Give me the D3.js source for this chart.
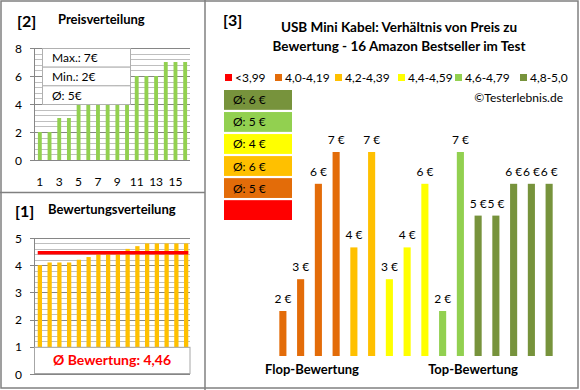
<!DOCTYPE html>
<html>
<head>
<meta charset="utf-8">
<script src="https://cdn.jsdelivr.net/npm/d3@7"></script>
<style>
  body { margin: 0; background: #fff; }
  svg { display: block; font-family: Lato, "Open Sans", sans-serif; }
</style>
</head>
<body>
<div class="chart"></div>
<script>
// values
const priceDist = [2, 2, 3, 3, 4, 4, 5, 5, 6, 6, 6, 6, 6, 7, 7, 7]
const priceTicks = ['1', '3', '5', '7', '9', '11', '13', '15']
const ratings = [4.0, 4.1, 4.1, 4.1, 4.2, 4.3, 4.4, 4.4, 4.4, 4.6, 4.7, 4.8, 4.8, 4.8, 4.8, 4.8]
const ratingMean = 4.46
const prices = [2, 3, 6, 7, 4, 7, 3, 4, 6, 2, 7, 5, 5, 6, 6, 6]
const classLabels = ['<3,99', '4,0-4,19', '4,2-4,39', '4,4-4,59', '4,6-4,79', '4,8-5,0']
const classMin = [0, 4.0, 4.2, 4.4, 4.6, 4.8]
const classColors = ['#ff0000', '#e36c09', '#ffc000', '#ffff00', '#92d050', '#77933c']
const classAvg = ['', '5', '6', '4', '5', '6']
const statLabels = ['Max.: 7€', 'Min.: 2€', 'Ø: 5€']

const width = 580
const height = 390

let svg = d3.select('.chart')
	.append('svg')
	.attr('width', width)
	.attr('height', height)

let classOf = (r) => {
	let k = 0
	classMin.forEach((m, i) => { if (r >= m) k = i })
	return k
}

// frame
svg.append('rect')
	.attr('x', 1).attr('y', 1).attr('width', 577).attr('height', 387)
	.attr('fill', 'none').attr('stroke', '#808080').attr('stroke-width', 1.5)
svg.append('line').attr('x1', 205).attr('x2', 205).attr('y1', 0).attr('y2', 390)
	.attr('stroke', '#808080').attr('stroke-width', 1.5)
svg.append('line').attr('x1', 0).attr('x2', 205).attr('y1', 192.5).attr('y2', 192.5)
	.attr('stroke', '#808080').attr('stroke-width', 1.5)

// ---------- [2] Preisverteilung ----------
svg.append('text').attr('x', 17).attr('y', 27).text('[2]')
	.style('font-size', '16px').style('font-weight', 'bold')
svg.append('text').attr('x', 58).attr('y', 24).text('Preisverteilung')
	.style('font-size', '13px').style('font-weight', 'bold')

let x2 = d3.scaleBand()
	.domain(d3.range(priceDist.length))
	.range([35, 190])
	.paddingInner(0.6)
	.paddingOuter(0.3)
let y2 = d3.scaleLinear().domain([0, 8]).range([160, 48])

let g2 = svg.append('g')
g2.selectAll('.minor')
	.data(d3.range(0, 8.01, 0.4))
	.enter().append('line')
	.attr('x1', 34).attr('x2', 190)
	.attr('y1', (d) => Math.round(y2(d)) + 0.5)
	.attr('y2', (d) => Math.round(y2(d)) + 0.5)
	.attr('stroke', '#bfbfbf')
g2.selectAll('.major')
	.data(d3.range(0, 9, 2))
	.enter().append('line')
	.attr('x1', 30).attr('x2', 190)
	.attr('y1', (d) => Math.round(y2(d)) + 0.5)
	.attr('y2', (d) => Math.round(y2(d)) + 0.5)
	.attr('stroke', '#868686')
g2.append('line').attr('x1', 34.5).attr('x2', 34.5).attr('y1', 48).attr('y2', 160)
	.attr('stroke', '#868686')

g2.selectAll('.bar')
	.data(priceDist)
	.enter().append('rect')
	.attr('x', (d, i) => x2(i))
	.attr('width', x2.bandwidth())
	.attr('y', (d) => y2(d))
	.attr('height', (d) => y2(0) - y2(d))
	.attr('fill', '#92d050')

g2.selectAll('.ylab')
	.data(d3.range(0, 9, 2))
	.enter().append('text')
	.attr('x', 22).attr('y', (d) => y2(d) + 4.5)
	.attr('text-anchor', 'end')
	.style('font-size', '12px')
	.text((d) => d)

g2.selectAll('.xlab')
	.data(priceTicks)
	.enter().append('text')
	.attr('x', (d) => x2(+d - 1) + x2.bandwidth() / 2)
	.attr('y', 186)
	.attr('text-anchor', 'middle')
	.style('font-size', '12px')
	.text((d) => d)

// stats box
let statY = d3.scaleBand().domain(d3.range(statLabels.length)).range([48, 104])
let stat = g2.selectAll('.stat')
	.data(statLabels)
	.enter().append('g')
stat.append('rect')
	.attr('x', 42.5).attr('width', 88)
	.attr('y', (d, i) => statY(i) + 0.5)
	.attr('height', statY.bandwidth())
	.attr('fill', '#fff').attr('stroke', '#b0b0b0')
stat.append('text')
	.attr('x', 52)
	.attr('y', (d, i) => statY(i) + statY.bandwidth() / 2 + 5)
	.style('font-size', '12px')
	.text((d) => d)

// ---------- [1] Bewertungsverteilung ----------
svg.append('text').attr('x', 15).attr('y', 217).text('[1]')
	.style('font-size', '16px').style('font-weight', 'bold')
svg.append('text').attr('x', 48).attr('y', 214).text('Bewertungsverteilung')
	.style('font-size', '13px').style('font-weight', 'bold')

let x1 = d3.scaleBand()
	.domain(d3.range(ratings.length))
	.range([35, 191])
	.paddingInner(0.56)
	.paddingOuter(0.28)
let y1 = d3.scaleLinear().domain([0, 5]).range([374, 238])

let g1 = svg.append('g')
g1.selectAll('.minor')
	.data(d3.range(0, 5.01, 0.2))
	.enter().append('line')
	.attr('x1', 34).attr('x2', 190)
	.attr('y1', (d) => Math.round(y1(d)) + 0.5)
	.attr('y2', (d) => Math.round(y1(d)) + 0.5)
	.attr('stroke', '#bfbfbf')
g1.selectAll('.major')
	.data(d3.range(0, 6))
	.enter().append('line')
	.attr('x1', 30).attr('x2', 190)
	.attr('y1', (d) => Math.round(y1(d)) + 0.5)
	.attr('y2', (d) => Math.round(y1(d)) + 0.5)
	.attr('stroke', '#868686')
g1.append('line').attr('x1', 34.5).attr('x2', 34.5).attr('y1', 238).attr('y2', 374)
	.attr('stroke', '#868686')

g1.selectAll('.bar')
	.data(ratings)
	.enter().append('rect')
	.attr('x', (d, i) => x1(i))
	.attr('width', x1.bandwidth())
	.attr('y', (d) => y1(d))
	.attr('height', (d) => y1(0) - y1(d))
	.attr('fill', '#ffc000')

g1.append('line')
	.attr('x1', x1(0)).attr('x2', x1(ratings.length - 1) + x1.bandwidth())
	.attr('y1', y1(ratingMean)).attr('y2', y1(ratingMean))
	.attr('stroke', '#ff0000').attr('stroke-width', 3.5)

g1.append('rect')
	.attr('x', 34.5).attr('y', y1(1) + 0.5)
	.attr('width', 155.5).attr('height', y1(0) - y1(1) - 1)
	.attr('fill', '#fff').attr('stroke', '#a6a6a6')
g1.append('text')
	.attr('x', 112).attr('y', 365)
	.attr('text-anchor', 'middle')
	.attr('fill', '#ff0000')
	.style('font-size', '14px').style('font-weight', 'bold')
	.text('Ø Bewertung: ' + d3.format('.2f')(ratingMean).replace('.', ','))

g1.selectAll('.ylab')
	.data(d3.range(0, 6))
	.enter().append('text')
	.attr('x', 22).attr('y', (d) => y1(d) + 4.5)
	.attr('text-anchor', 'end')
	.style('font-size', '12px')
	.text((d) => d)

// ---------- [3] Preis / Bewertung ----------
svg.append('text').attr('x', 223).attr('y', 26).text('[3]')
	.style('font-size', '16px').style('font-weight', 'bold')
let title = svg.append('text')
	.attr('text-anchor', 'middle')
	.style('font-size', '13.5px').style('font-weight', 'bold')
title.append('tspan').attr('x', 399).attr('y', 32).text('USB Mini Kabel: Verhältnis von Preis zu')
title.append('tspan').attr('x', 399).attr('y', 51).text('Bewertung - 16 Amazon Bestseller im Test')

let legendX = [225, 275, 335, 398, 455, 520]
let legend = svg.selectAll('.legend')
	.data(classLabels)
	.enter().append('g')
	.attr('transform', (d, i) => 'translate(' + legendX[i] + ',74)')
legend.append('rect')
	.attr('width', 7).attr('height', 7)
	.attr('fill', (d, i) => classColors[i])
legend.append('text')
	.attr('x', 10).attr('y', 8)
	.style('font-size', '12px')
	.text((d) => d)

svg.append('text')
	.attr('x', 563).attr('y', 102)
	.attr('text-anchor', 'end')
	.style('font-size', '12px')
	.text('©Testerlebnis.de')

// average boxes, best class on top
let avgOrder = [5, 4, 3, 2, 1, 0]
let avgY = d3.scaleBand().domain(avgOrder).range([90, 220]).paddingInner(0.1)
let avg = svg.selectAll('.avg')
	.data(avgOrder)
	.enter().append('g')
avg.append('rect')
	.attr('x', 224).attr('width', 68)
	.attr('y', (d) => avgY(d))
	.attr('height', avgY.bandwidth())
	.attr('fill', (d) => classColors[d])
avg.append('text')
	.attr('x', 233)
	.attr('y', (d) => avgY(d) + avgY.bandwidth() / 2 + 4.5)
	.style('font-size', '12px')
	.text((d) => classAvg[d] ? 'Ø: ' + classAvg[d] + ' €' : '')

let x3 = d3.scaleBand()
	.domain(d3.range(prices.length))
	.range([274, 558])
	.paddingInner(0.6)
	.paddingOuter(0.3)
let y3 = d3.scaleLinear().domain([0, 7]).range([374.6, 152])

let g3 = svg.append('g')
g3.selectAll('.bar')
	.data(prices)
	.enter().append('rect')
	.attr('x', (d, i) => x3(i))
	.attr('width', x3.bandwidth())
	.attr('y', (d) => y3(d))
	.attr('height', (d) => y3(0) - y3(d))
	.attr('fill', (d, i) => classColors[classOf(ratings[i])])

g3.selectAll('.val')
	.data(prices)
	.enter().append('text')
	.attr('x', (d, i) => x3(i) + x3.bandwidth() / 2)
	.attr('y', (d) => y3(d) - 8)
	.attr('text-anchor', 'middle')
	.style('font-size', '12px')
	.text((d) => d + ' €')

// cover under the axis with the labels
g3.append('rect')
	.attr('x', 260).attr('y', 356).attr('width', 310).attr('height', 30)
	.attr('fill', '#fff')
g3.append('text')
	.attr('x', 312).attr('y', 374)
	.attr('text-anchor', 'middle')
	.style('font-size', '13px').style('font-weight', 'bold')
	.text('Flop-Bewertung')
g3.append('text')
	.attr('x', 473).attr('y', 374)
	.attr('text-anchor', 'middle')
	.style('font-size', '13px').style('font-weight', 'bold')
	.text('Top-Bewertung')
</script>
</body>
</html>
